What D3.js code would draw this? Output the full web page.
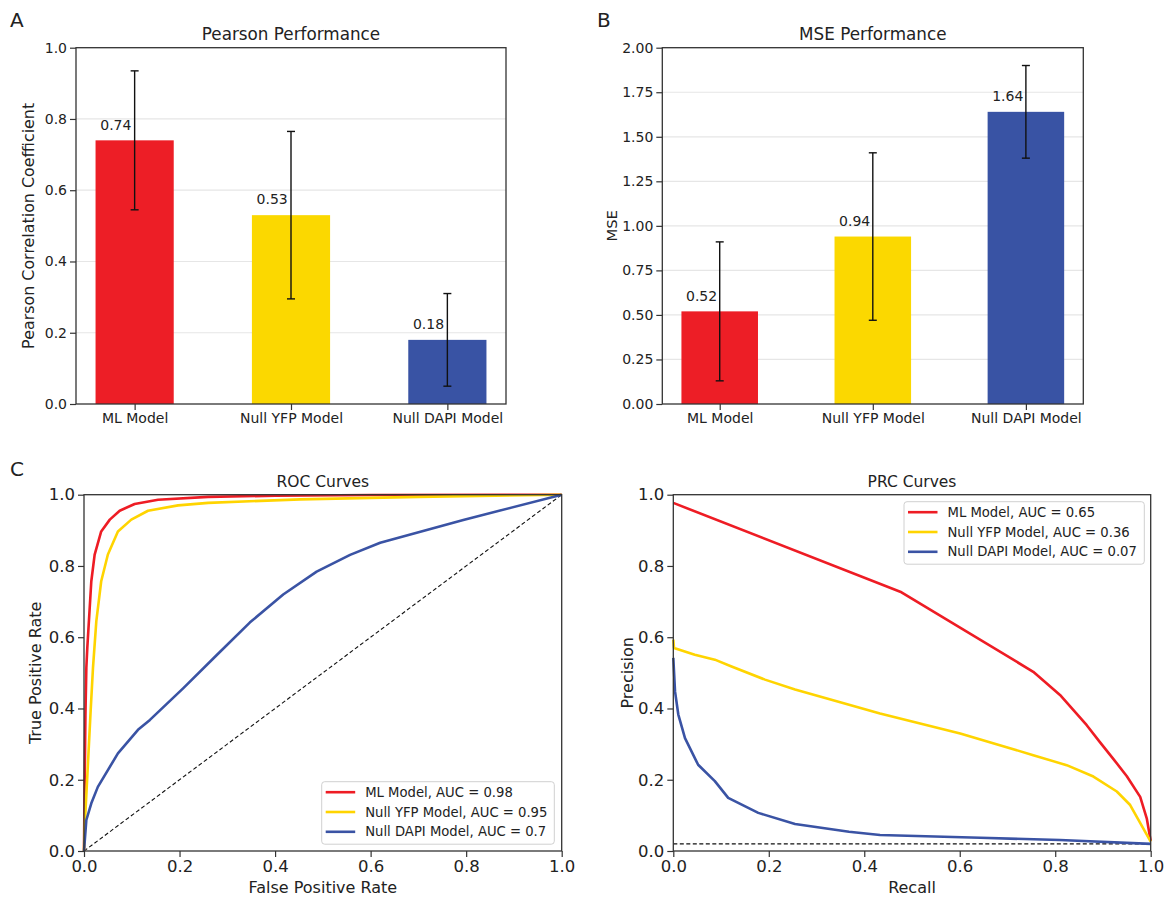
<!DOCTYPE html>
<meta charset="utf-8">
<script src="https://d3js.org/d3.v7.min.js"></script>
<style>
  body { margin: 0; background: #fff; }
  text { font-family: "DejaVu Sans", sans-serif; fill: #222; }
</style>
<body>
<script>

// ---- data ----
var categories = ["ML Model", "Null YFP Model", "Null DAPI Model"];
var barColors = ["#ED1E26", "#FBD800", "#3953A4"];
var lineColors = ["#EE1C24", "#FFD400", "#3A53A4"];

var pearsonMean = [0.74, 0.53, 0.18];
var pearsonStd = [0.195, 0.235, 0.13];
var mseMean = [0.52, 0.94, 1.64];
var mseStd = [0.39, 0.47, 0.26];

// ROC curves (false positive rate, true positive rate)
var rocMLx = [0, 0.001, 0.003, 0.0049, 0.0069, 0.0153, 0.0223, 0.036, 0.054, 0.0747, 0.106, 0.155, 0.26, 0.4, 0.6, 1];
var rocMLy = [0, 0.15, 0.38, 0.514, 0.57, 0.757, 0.832, 0.897, 0.930, 0.955, 0.974, 0.986, 0.994, 0.997, 0.999, 1];
var rocYFPx = [0, 0.0014, 0.0069, 0.014, 0.0188, 0.0258, 0.036, 0.050, 0.071, 0.099, 0.134, 0.197, 0.26, 0.453, 0.7, 1];
var rocYFPy = [0, 0.068, 0.209, 0.396, 0.514, 0.645, 0.757, 0.832, 0.897, 0.930, 0.955, 0.970, 0.977, 0.987, 0.994, 1];
var rocDAPIx = [0, 0.0049, 0.0153, 0.029, 0.071, 0.113, 0.138, 0.208, 0.278, 0.347, 0.417, 0.487, 0.557, 0.62, 0.794, 1];
var rocDAPIy = [0, 0.087, 0.134, 0.18, 0.274, 0.34, 0.368, 0.457, 0.55, 0.641, 0.72, 0.784, 0.831, 0.865, 0.929, 1];

// PRC curves (recall, precision)
var prcMLx = [0, 0.478, 0.754, 0.81, 0.866, 0.894, 0.922, 0.95, 0.978, 0.992, 1];
var prcMLy = [0.977, 0.726, 0.503, 0.438, 0.353, 0.305, 0.258, 0.21, 0.152, 0.09, 0.028];
var prcYFPx = [0, 0.0015, 0.045, 0.087, 0.122, 0.192, 0.255, 0.333, 0.433, 0.601, 0.684, 0.754, 0.824, 0.880, 0.929, 0.957, 1];
var prcYFPy = [0.593, 0.570, 0.551, 0.537, 0.518, 0.481, 0.453, 0.424, 0.386, 0.330, 0.297, 0.269, 0.241, 0.209, 0.167, 0.129, 0.026];
var prcDAPIx = [0, 0.0036, 0.0105, 0.0245, 0.052, 0.087, 0.115, 0.178, 0.255, 0.368, 0.433, 0.643, 0.81, 1];
var prcDAPIy = [0.542, 0.448, 0.383, 0.317, 0.242, 0.196, 0.149, 0.107, 0.076, 0.054, 0.045, 0.037, 0.031, 0.02];

var rocLegend = ["ML Model, AUC = 0.98", "Null YFP Model, AUC = 0.95", "Null DAPI Model, AUC = 0.7"];
var prcLegend = ["ML Model, AUC = 0.65", "Null YFP Model, AUC = 0.36", "Null DAPI Model, AUC = 0.07"];
var prcBaseline = 0.02;

var svg = d3.select("body").append("svg")
    .attr("width", 1173)
    .attr("height", 901);

var axisColor = "#333";

function styleAxis(g) {
  g.select(".domain").remove();
  g.selectAll(".tick line").attr("stroke", axisColor).attr("stroke-width", 1.2);
}

function frame(x0, x1, y0, y1) {
  svg.append("rect")
    .attr("x", x0).attr("y", y0)
    .attr("width", x1 - x0).attr("height", y1 - y0)
    .attr("fill", "none")
    .attr("stroke", axisColor)
    .attr("stroke-width", 1.3);
}

// ---- bar panels ----
function barPanel(o) {
  var x = d3.scaleLinear().domain([-0.375, 2.375]).range([o.left, o.right]);
  var y = d3.scaleLinear().domain([0, o.yMax]).range([o.bottom, o.top]);

  // grid
  svg.append("g").selectAll("line")
    .data(o.ticks.filter(function(t){ return t > 0 && t < o.yMax; }))
    .enter().append("line")
      .attr("x1", o.left).attr("x2", o.right)
      .attr("y1", function(d){ return y(d); })
      .attr("y2", function(d){ return y(d); })
      .attr("stroke", "#e6e6e6")
      .attr("stroke-width", 1.2);

  // bars
  svg.append("g").selectAll("rect")
    .data(o.means)
    .enter().append("rect")
      .attr("x", function(d, i){ return x(i - 0.25); })
      .attr("width", function(d, i){ return x(i + 0.25) - x(i - 0.25); })
      .attr("y", function(d){ return y(d); })
      .attr("height", function(d){ return y(0) - y(d); })
      .attr("fill", function(d, i){ return barColors[i]; });

  // value labels
  svg.append("g").selectAll("text")
    .data(o.means)
    .enter().append("text")
      .attr("x", function(d, i){ return x(i - 0.22); })
      .attr("y", function(d){ return y(d + o.yMax * 0.03); })
      .style("font-size", "14px")
      .text(function(d){ return d3.format(".2f")(d); });

  // error bars
  var eb = svg.append("g").selectAll("g")
    .data(o.means)
    .enter().append("g")
      .attr("stroke", "#111")
      .attr("stroke-width", 1.4);
  eb.append("line")
    .attr("x1", function(d, i){ return x(i); })
    .attr("x2", function(d, i){ return x(i); })
    .attr("y1", function(d, i){ return y(d - o.stds[i]); })
    .attr("y2", function(d, i){ return y(d + o.stds[i]); });
  [-1, 1].forEach(function(s) {
    eb.append("line")
      .attr("x1", function(d, i){ return x(i) - 4; })
      .attr("x2", function(d, i){ return x(i) + 4; })
      .attr("y1", function(d, i){ return y(d + s * o.stds[i]); })
      .attr("y2", function(d, i){ return y(d + s * o.stds[i]); });
  });

  svg.append("g")
    .attr("transform", "translate(0," + o.bottom + ")")
    .call(d3.axisBottom(x).tickValues([0, 1, 2])
      .tickFormat(function(d){ return categories[d]; })
      .tickSize(6).tickPadding(3.5))
    .call(styleAxis)
    .selectAll("text").style("font-size", "14px").attr("fill", "#222");

  svg.append("g")
    .attr("transform", "translate(" + o.left + ",0)")
    .call(d3.axisLeft(y).tickValues(o.ticks).tickFormat(d3.format(o.fmt))
      .tickSize(6).tickPadding(3))
    .call(styleAxis)
    .selectAll("text").style("font-size", "14px").attr("fill", "#222");

  frame(o.left, o.right, o.top, o.bottom);

  svg.append("text")
    .attr("x", (o.left + o.right) / 2).attr("y", o.top - 8)
    .attr("text-anchor", "middle")
    .style("font-size", "16.8px")
    .text(o.title);

  svg.append("text")
    .attr("transform", "translate(" + o.ylabelX + "," + (o.top + o.bottom) / 2 + ") rotate(-90)")
    .attr("text-anchor", "middle")
    .style("font-size", o.ylabelSize)
    .text(o.ylabel);

  svg.append("text")
    .attr("x", o.letterX).attr("y", 27)
    .style("font-size", "20px")
    .text(o.letter);
}

barPanel({
  left: 76, right: 506, top: 47.7, bottom: 404,
  means: pearsonMean, stds: pearsonStd, yMax: 1,
  ticks: [0, 0.2, 0.4, 0.6, 0.8, 1.0], fmt: ".1f",
  title: "Pearson Performance", ylabel: "Pearson Correlation Coefficient",
  ylabelX: 34, ylabelSize: "15.9px", letter: "A", letterX: 10
});

barPanel({
  left: 662.3, right: 1083.3, top: 47.7, bottom: 404,
  means: mseMean, stds: mseStd, yMax: 2,
  ticks: [0, 0.25, 0.5, 0.75, 1.0, 1.25, 1.5, 1.75, 2.0], fmt: ".2f",
  title: "MSE Performance", ylabel: "MSE",
  ylabelX: 616.5, ylabelSize: "14.8px", letter: "B", letterX: 597
});

// ---- curve panels ----
function curvePanel(o) {
  var x = d3.scaleLinear().domain([0, 1]).range([o.left, o.right]);
  var y = d3.scaleLinear().domain([0, 1]).range([o.bottom, o.top]);
  var line = d3.line()
    .x(function(d){ return x(d[0]); })
    .y(function(d){ return y(d[1]); });

  svg.append("path")
    .attr("d", line(o.ref))
    .attr("fill", "none")
    .attr("stroke", "#111")
    .attr("stroke-width", 1.1)
    .attr("stroke-dasharray", "4,2.5");

  o.series.forEach(function(s, i) {
    var pts = s[0].map(function(v, j){ return [v, s[1][j]]; });
    svg.append("path")
      .attr("d", line(pts))
      .attr("fill", "none")
      .attr("stroke", lineColors[i])
      .attr("stroke-width", 2.6)
      .attr("stroke-linejoin", "round");
  });

  var ticks = [0, 0.2, 0.4, 0.6, 0.8, 1.0];
  svg.append("g")
    .attr("transform", "translate(0," + o.bottom + ")")
    .call(d3.axisBottom(x).tickValues(ticks).tickFormat(d3.format(".1f"))
      .tickSize(6).tickPadding(3))
    .call(styleAxis)
    .selectAll("text").style("font-size", "16.5px").attr("fill", "#222");

  svg.append("g")
    .attr("transform", "translate(" + o.left + ",0)")
    .call(d3.axisLeft(y).tickValues(ticks).tickFormat(d3.format(".1f"))
      .tickSize(6).tickPadding(3))
    .call(styleAxis)
    .selectAll("text").style("font-size", "16.5px").attr("fill", "#222");

  frame(o.left, o.right, o.top, o.bottom);

  svg.append("text")
    .attr("x", (o.left + o.right) / 2).attr("y", o.top - 8)
    .attr("text-anchor", "middle")
    .style("font-size", "15.5px")
    .text(o.title);

  svg.append("text")
    .attr("x", (o.left + o.right) / 2).attr("y", 893)
    .attr("text-anchor", "middle")
    .style("font-size", "16px")
    .text(o.xlabel);

  svg.append("text")
    .attr("transform", "translate(" + o.ylabelX + "," + (o.top + o.bottom) / 2 + ") rotate(-90)")
    .attr("text-anchor", "middle")
    .style("font-size", "16px")
    .text(o.ylabel);

  // legend
  var lg = svg.append("g").attr("transform", "translate(" + o.legX + "," + o.legY + ")");
  lg.append("rect")
    .attr("width", o.legW).attr("height", 62.5)
    .attr("rx", 3)
    .attr("fill", "#fff").attr("fill-opacity", 0.85)
    .attr("stroke", "#d0d0d0");
  o.legend.forEach(function(t, i) {
    var yy = 10.5 + i * 19.8;
    lg.append("line")
      .attr("x1", 4).attr("x2", 33.5)
      .attr("y1", yy).attr("y2", yy)
      .attr("stroke", lineColors[i])
      .attr("stroke-width", 2.6);
    lg.append("text")
      .attr("x", 43.5).attr("y", yy + 4.6)
      .style("font-size", "13.2px")
      .text(t);
  });
}

curvePanel({
  left: 84, right: 561.7, top: 494.7, bottom: 851,
  ref: [[0, 0], [1, 1]],
  series: [[rocMLx, rocMLy], [rocYFPx, rocYFPy], [rocDAPIx, rocDAPIy]],
  title: "ROC Curves", xlabel: "False Positive Rate", ylabel: "True Positive Rate",
  ylabelX: 41, legend: rocLegend, legX: 321.7, legY: 781.7, legW: 232.6
});

curvePanel({
  left: 673.3, right: 1150.7, top: 494.7, bottom: 851,
  ref: [[0, prcBaseline], [1, prcBaseline]],
  series: [[prcMLx, prcMLy], [prcYFPx, prcYFPy], [prcDAPIx, prcDAPIy]],
  title: "PRC Curves", xlabel: "Recall", ylabel: "Precision",
  ylabelX: 633, legend: prcLegend, legX: 904, legY: 501.7, legW: 240.3
});

svg.append("text")
  .attr("x", 10).attr("y", 476)
  .style("font-size", "20px")
  .text("C");

</script>
</body>
